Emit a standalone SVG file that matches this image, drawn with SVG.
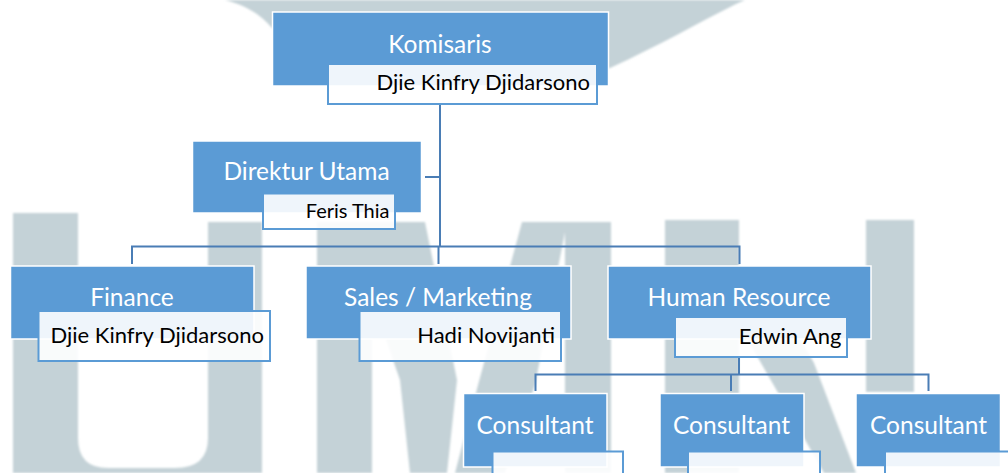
<svg xmlns="http://www.w3.org/2000/svg" width="1008" height="473" viewBox="0 0 1008 473">
<defs>
<filter id="soft" x="-5%" y="-5%" width="110%" height="110%"><feGaussianBlur stdDeviation="1.2"/></filter>
<style>
.wm{fill:#C4D2D7}
.box{fill:#5B9BD5;stroke:#FFFFFF;stroke-width:1.5}
.name{fill:#FFFFFF;fill-opacity:0.9;stroke:#5B9BD5;stroke-width:2}
.con{fill:none;stroke:#4A7DB5;stroke-width:2}
.t{font-family:Lato,"Noto Sans",sans-serif;font-size:24.5px;fill:#FFFFFF;text-anchor:middle}
.n{font-family:Lato,"Noto Sans",sans-serif;font-size:22px;fill:#000000;text-anchor:end}
</style>
</defs>
<rect width="1008" height="473" fill="#FFFFFF"/>
<g id="watermark" class="wm" filter="url(#soft)">
<path d="M225 0 L745 0 L736 4 C700 22 660 45 610 68 L440 85 L272 28 C262 16 248 6 225 0 Z"/>
<path d="M13 213 L78 213 L78 438 Q78 468 108 468 L175 468 Q208 468 208 438 L208 222 L262 222 L262 473 L13 473 Z"/>
<rect x="317" y="222" width="55" height="251"/>
<polygon points="327,222 425,222 457,380 447,473 410,473 400,380 372,300 327,300"/>
<polygon points="522,222 567,222 535,385 505,473 455,473 478,385"/>
<rect x="565" y="222" width="46" height="251"/>
<rect x="665" y="220" width="74" height="253"/>
<polygon points="725,300 778,300 814,363 856,473 824,473 761,363"/>
<rect x="866" y="220" width="48" height="172"/>
</g>
<g id="connectors">
<path class="con" d="M440 104 V247"/>
<path class="con" d="M425 177 H440"/>
<path class="con" d="M132 264 V246.5 H739.5 V264"/>
<path class="con" d="M438.5 246.5 V264"/>
<path class="con" d="M739 357 V374.5"/>
<path class="con" d="M535.5 391 V374.5 H928.5 V391"/>
<path class="con" d="M731 374.5 V391"/>
</g>
<g id="komisaris">
<rect class="box" x="272.5" y="12" width="336" height="74"/>
<text class="t" x="440" y="53">Komisaris</text>
<rect class="name" x="328" y="64" width="269" height="40"/>
<text class="n" x="590" y="90">Djie Kinfry Djidarsono</text>
</g>
<g id="direktur-utama">
<rect class="box" x="192.5" y="141" width="229" height="72"/>
<text class="t" x="306.5" y="180">Direktur Utama</text>
<rect class="name" x="263" y="193.5" width="132" height="35.5"/>
<text class="n" x="389.5" y="217.5" style="font-size:20px">Feris Thia</text>
</g>
<g id="finance">
<rect class="box" x="10.5" y="266" width="243.5" height="73"/>
<text class="t" x="132" y="305.5">Finance</text>
<rect class="name" x="38.5" y="311" width="231.5" height="50"/>
<text class="n" x="264" y="342.5">Djie Kinfry Djidarsono</text>
</g>
<g id="sales-marketing">
<rect class="box" x="306" y="266" width="265" height="73"/>
<text class="t" x="438" y="305.5">Sales / Marketing</text>
<rect class="name" x="359.5" y="311" width="201.5" height="50"/>
<text class="n" x="555" y="342.5">Hadi Novijanti</text>
</g>
<g id="human-resource">
<rect class="box" x="608" y="266" width="263" height="73"/>
<text class="t" x="739" y="305.5">Human Resource</text>
<rect class="name" x="675" y="317" width="172" height="40"/>
<text class="n" x="841.5" y="343.5">Edwin Ang</text>
</g>
<g id="consultant-1">
<rect class="box" x="463.5" y="393.5" width="143.5" height="73.5"/>
<text class="t" x="535" y="433.5">Consultant</text>
<rect class="name" x="492.5" y="451.5" width="130.5" height="30"/>
</g>
<g id="consultant-2">
<rect class="box" x="660" y="393.5" width="144" height="73.5"/>
<text class="t" x="731.5" y="433.5">Consultant</text>
<rect class="name" x="688" y="451.5" width="132" height="30"/>
</g>
<g id="consultant-3">
<rect class="box" x="856" y="393.5" width="144.5" height="73.5"/>
<text class="t" x="928.5" y="433.5">Consultant</text>
<rect class="name" x="885" y="451.5" width="132" height="30"/>
</g>
</svg>
